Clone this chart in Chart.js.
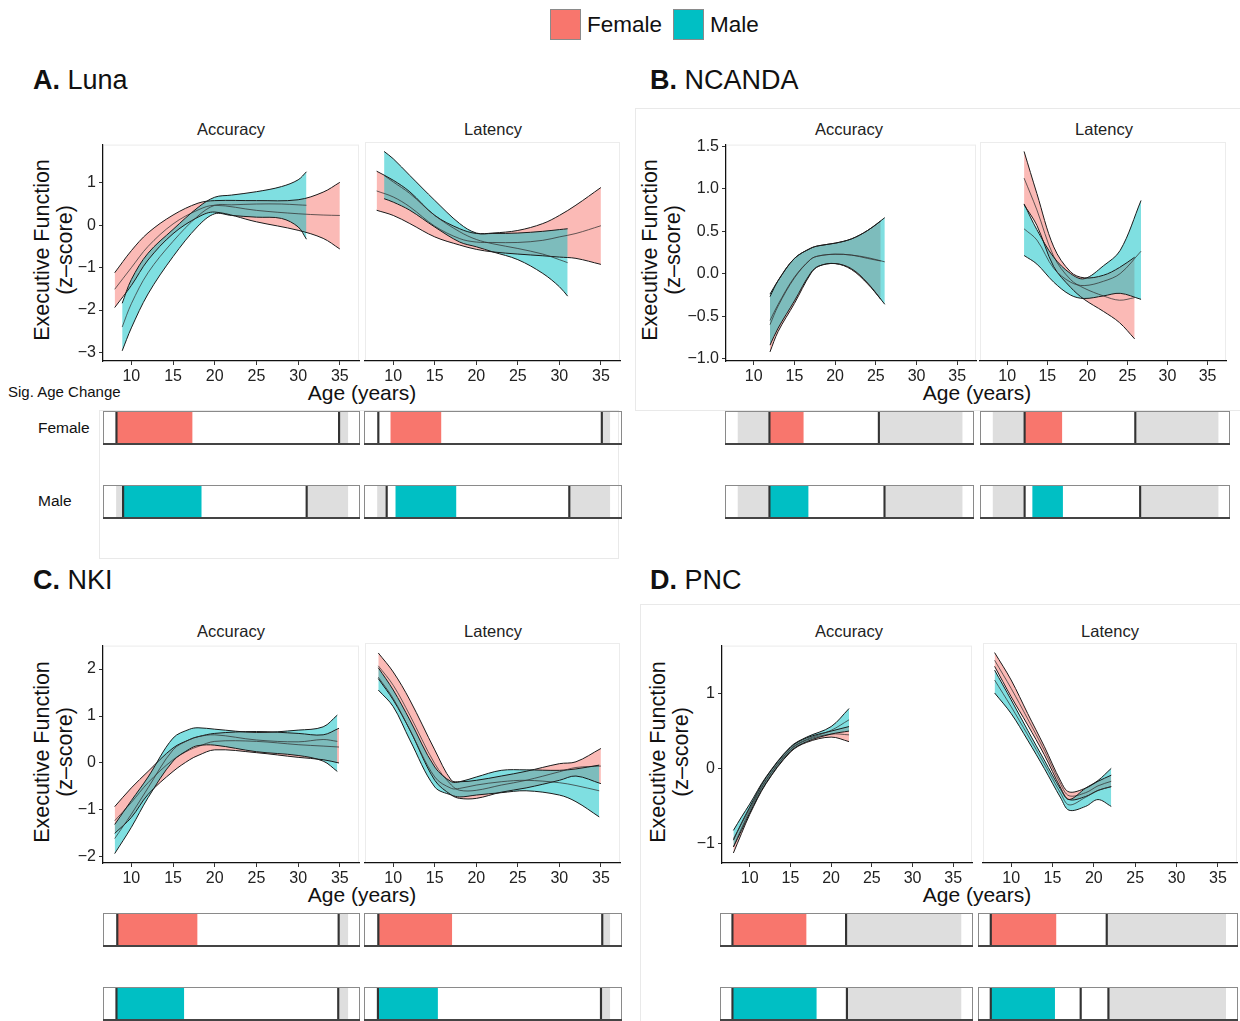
<!DOCTYPE html>
<html>
<head>
<meta charset="utf-8">
<script src="https://cdn.jsdelivr.net/npm/chart.js@4.4.1/dist/chart.umd.min.js"></script>
<style>
  body { margin: 0; background: #fff; font-family: "Liberation Sans", Arial, sans-serif; }
  #fig { position: relative; width: 1240px; height: 1021px; overflow: hidden; }
  #fig canvas, #fig .t, #fig .box { position: absolute; }
  .t { white-space: nowrap; color: #111; }
  .box { border: 1px solid #e9e9e9; box-sizing: border-box; }
</style>
</head>
<body>
<div id="fig"></div>
<script>
// ---- shared axes
const ageTicks = [10, 15, 20, 25, 30, 35];
const ageRange = [6.6, 37.3];
const stripSpan = [8.1, 35.95];

const lunaTicks = [-3, -2, -1, 0, 1];
const ncandaTicks = [-1, -0.5, 0, 0.5, 1, 1.5];
const nkiTicks = [-2, -1, 0, 1, 2];
const pncTicks = [-1, 0, 1];

// ---- A. Luna
const lunaAccF_age = [8, 10, 12, 15, 18, 20, 25, 30, 33, 35];
const lunaAccF_lo  = [-1.94, -1.42, -0.82, -0.2, 0.19, 0.31, 0.08, -0.12, -0.31, -0.56];
const lunaAccF_mid = [-1.51, -1.0, -0.5, 0.03, 0.36, 0.47, 0.35, 0.27, 0.24, 0.23];
const lunaAccF_hi  = [-1.12, -0.6, -0.18, 0.24, 0.52, 0.58, 0.58, 0.6, 0.78, 1.01];
const lunaAccM_age = [8.9, 10, 12, 15, 18, 20, 22, 25, 28, 30, 31];
const lunaAccM_lo  = [-2.96, -2.42, -1.62, -0.74, -0.02, 0.27, 0.23, 0.19, 0.16, -0.04, -0.33];
const lunaAccM_mid = [-2.40, -1.85, -1.12, -0.38, 0.22, 0.47, 0.48, 0.5, 0.5, 0.48, 0.47];
const lunaAccM_hi  = [-1.84, -1.28, -0.66, -0.1, 0.42, 0.66, 0.71, 0.79, 0.91, 1.07, 1.26];
const lunaLatF_age = [8, 10, 12, 15, 18, 20, 22, 25, 28, 30, 32, 35];
const lunaLatF_lo  = [0.31, 0.19, 0.0, -0.31, -0.5, -0.6, -0.66, -0.71, -0.75, -0.78, -0.81, -0.95];
const lunaLatF_mid = [0.76, 0.62, 0.39, -0.06, -0.35, -0.43, -0.44, -0.44, -0.39, -0.31, -0.23, -0.05];
const lunaLatF_hi  = [1.22, 1.01, 0.74, 0.19, -0.12, -0.23, -0.22, -0.16, 0.0, 0.19, 0.43, 0.84];
const lunaLatM_age = [8.9, 10, 12, 15, 18, 20, 22, 25, 28, 30, 31];
const lunaLatM_lo  = [0.58, 0.5, 0.31, -0.08, -0.43, -0.54, -0.66, -0.84, -1.16, -1.47, -1.69];
const lunaLatM_mid = [1.12, 0.97, 0.7, 0.19, -0.19, -0.37, -0.47, -0.58, -0.71, -0.84, -0.91];
const lunaLatM_hi  = [1.68, 1.51, 1.12, 0.54, 0.0, -0.22, -0.23, -0.22, -0.18, -0.14, -0.12];

// ---- B. NCANDA
const ncAccF_age = [12, 13, 15, 17, 18, 20, 22, 24, 25.6];
const ncAccF_lo  = [-0.92, -0.68, -0.35, 0.0, 0.09, 0.12, 0.05, -0.12, -0.3];
const ncAccF_mid = [-0.6, -0.38, -0.05, 0.17, 0.21, 0.23, 0.22, 0.18, 0.15];
const ncAccF_hi  = [-0.27, -0.08, 0.18, 0.3, 0.33, 0.36, 0.41, 0.51, 0.62];
const ncAccM_age = [12, 13, 15, 17, 18, 20, 22, 24, 26.1];
const ncAccM_lo  = [-0.84, -0.64, -0.32, 0.01, 0.09, 0.12, 0.06, -0.11, -0.36];
const ncAccM_mid = [-0.55, -0.36, -0.04, 0.17, 0.21, 0.23, 0.22, 0.19, 0.14];
const ncAccM_hi  = [-0.24, -0.08, 0.18, 0.3, 0.33, 0.36, 0.41, 0.51, 0.66];
const ncLatF_age = [12.1, 13.7, 15.8, 17.9, 19.6, 22, 24, 25.9];
const ncLatF_lo  = [0.79, 0.55, 0.07, -0.17, -0.31, -0.45, -0.58, -0.77];
const ncLatF_mid = [1.10, 0.73, 0.19, -0.08, -0.18, -0.27, -0.32, -0.29];
const ncLatF_hi  = [1.41, 0.92, 0.3, 0.01, -0.06, -0.03, 0.06, 0.18];
const ncLatM_age = [12.1, 13.7, 15.8, 17.9, 19.6, 22, 24.1, 26.7];
const ncLatM_lo  = [0.2, 0.1, -0.11, -0.26, -0.3, -0.27, -0.24, -0.31];
const ncLatM_mid = [0.51, 0.38, 0.05, -0.11, -0.15, -0.1, -0.01, 0.25];
const ncLatM_hi  = [0.8, 0.5, 0.18, -0.01, -0.07, 0.08, 0.26, 0.84];

// ---- C. NKI
const nkiAccF_age = [8, 10, 12, 15, 17, 18, 20, 25, 30, 33, 34.9];
const nkiAccF_lo  = [-1.5, -1.16, -0.67, -0.18, 0.07, 0.16, 0.28, 0.22, 0.12, 0.07, 0.0];
const nkiAccF_mid = [-1.23, -0.84, -0.42, 0.07, 0.28, 0.35, 0.46, 0.46, 0.39, 0.36, 0.34];
const nkiAccF_hi  = [-0.93, -0.53, -0.18, 0.32, 0.5, 0.56, 0.63, 0.67, 0.63, 0.6, 0.74];
const nkiAccM_age = [8, 10, 12, 15, 17, 18, 20, 25, 30, 33, 34.7];
const nkiAccM_lo  = [-1.93, -1.37, -0.74, 0.04, 0.3, 0.37, 0.38, 0.24, 0.16, 0.04, -0.18];
const nkiAccM_mid = [-1.61, -1.09, -0.53, 0.28, 0.5, 0.56, 0.6, 0.49, 0.45, 0.5, 0.46];
const nkiAccM_hi  = [-1.31, -0.8, -0.3, 0.53, 0.72, 0.75, 0.72, 0.65, 0.7, 0.77, 1.02];
const nkiLatF_age = [8.2, 10, 12, 15, 17, 18, 20, 23, 26, 30, 32, 35];
const nkiLatF_lo  = [1.75, 1.3, 0.67, -0.39, -0.7, -0.77, -0.77, -0.64, -0.55, -0.39, -0.3, -0.46];
const nkiLatF_mid = [2.02, 1.61, 0.98, -0.04, -0.49, -0.6, -0.6, -0.49, -0.39, -0.21, -0.12, -0.09];
const nkiLatF_hi  = [2.29, 1.89, 1.3, 0.25, -0.39, -0.42, -0.39, -0.3, -0.2, -0.04, 0.0, 0.28];
const nkiLatM_age = [8.2, 10, 12, 15, 17, 18, 20, 23, 26, 30, 32, 34.8];
const nkiLatM_lo  = [1.51, 1.16, 0.46, -0.53, -0.7, -0.74, -0.7, -0.65, -0.61, -0.7, -0.84, -1.16];
const nkiLatM_mid = [1.78, 1.33, 0.67, -0.32, -0.56, -0.56, -0.49, -0.42, -0.39, -0.44, -0.5, -0.61];
const nkiLatM_hi  = [1.98, 1.51, 0.88, -0.11, -0.42, -0.42, -0.32, -0.18, -0.17, -0.18, -0.15, -0.07];

// ---- D. PNC
const pncAccF_age = [8, 9, 10, 12, 15, 17, 20, 22.2];
const pncAccF_lo  = [-1.12, -0.86, -0.61, -0.2, 0.22, 0.35, 0.42, 0.36];
const pncAccF_mid = [-1.04, -0.79, -0.56, -0.16, 0.25, 0.38, 0.46, 0.45];
const pncAccF_hi  = [-0.95, -0.72, -0.51, -0.12, 0.28, 0.41, 0.5, 0.56];
const pncAccM_age = [8, 9, 10, 12, 15, 17, 20, 22.2];
const pncAccM_lo  = [-1.04, -0.82, -0.59, -0.19, 0.23, 0.36, 0.46, 0.5];
const pncAccM_mid = [-0.93, -0.73, -0.53, -0.15, 0.26, 0.39, 0.51, 0.65];
const pncAccM_hi  = [-0.82, -0.64, -0.47, -0.11, 0.29, 0.42, 0.56, 0.8];
const pncLatF_age = [8, 10, 12, 14, 16, 17, 19, 20.5, 22.1];
const pncLatF_lo  = [1.33, 0.93, 0.56, 0.17, -0.27, -0.42, -0.38, -0.3, -0.25];
const pncLatF_mid = [1.41, 1.04, 0.64, 0.23, -0.22, -0.37, -0.33, -0.24, -0.18];
const pncLatF_hi  = [1.51, 1.15, 0.71, 0.28, -0.18, -0.32, -0.27, -0.18, -0.1];
const pncLatM_age = [8, 10, 12, 14, 16, 17, 19, 20.5, 22.1];
const pncLatM_lo  = [0.98, 0.71, 0.36, -0.01, -0.4, -0.56, -0.51, -0.42, -0.51];
const pncLatM_mid = [1.15, 0.8, 0.43, 0.05, -0.34, -0.49, -0.39, -0.3, -0.25];
const pncLatM_hi  = [1.28, 0.89, 0.49, 0.1, -0.29, -0.42, -0.27, -0.17, -0.01];

// ---- significance strips: [data start, data end, sig start, sig end, extra marks...]
const lunaStripAccF = [8.1, 34.9, 8.1, 17.2];
const lunaStripLatF = [8.2, 35.0, 9.7, 15.7];
const lunaStripAccM = [8.9, 31.0, 8.9, 18.3];
const lunaStripLatM = [9.2, 31.1, 10.3, 17.5];
const ncStripAccF = [12.0, 25.6, 12.0, 16.2];
const ncStripLatF = [12.0, 25.7, 12.0, 16.6];
const ncStripAccM = [12.0, 26.3, 12.0, 16.8];
const ncStripLatM = [12.0, 26.3, 13.0, 16.7];
const nkiStripAccF = [8.2, 34.85, 8.2, 17.8];
const nkiStripLatF = [8.2, 35.05, 8.2, 17.0];
const nkiStripAccM = [8.1, 34.8, 8.1, 16.2];
const nkiStripLatM = [8.15, 34.9, 8.15, 15.3];
const pncStripAccF = [8.0, 21.9, 8.0, 17.0];
const pncStripLatF = [8.0, 21.8, 8.0, 15.75];
const pncStripAccM = [8.0, 22.0, 8.0, 18.25];
const pncStripLatM = [8.0, 22.0, 8.0, 15.6, 18.7];

const FEMALE = '#F8766D', MALE = '#00BFC4';
const FEMALE_FILL = 'rgba(248,118,109,0.5)', MALE_FILL = 'rgba(0,191,196,0.5)';

const fig = document.getElementById('fig');

function addCanvas(x, y, w, h) {
  const c = document.createElement('canvas');
  c.width = w; c.height = h;
  c.style.left = x + 'px'; c.style.top = y + 'px';
  fig.appendChild(c);
  return c;
}
function txt(s, x, y, css, center) {
  const d = document.createElement('div');
  d.className = 't';
  d.innerHTML = s;
  d.style.left = x + 'px'; d.style.top = y + 'px';
  d.style.transform = center ? 'translate(-50%,-50%)' : 'translate(0,-50%)';
  Object.assign(d.style, css || {});
  fig.appendChild(d);
}
function box(x, y, w, h) {
  const d = document.createElement('div');
  d.className = 'box';
  Object.assign(d.style, {left: x + 'px', top: y + 'px', width: w + 'px', height: h + 'px'});
  fig.appendChild(d);
}
const minus = v => String(v).replace('-', '\u2212');

const panelFrame = {
  id: 'panelFrame',
  beforeDraw(chart) {
    const {ctx, chartArea: a} = chart;
    ctx.save();
    ctx.strokeStyle = '#ececec'; ctx.lineWidth = 1;
    ctx.strokeRect(a.left + 0.5, a.top + 0.5, a.right - a.left - 1, a.bottom - a.top - 1);
    ctx.restore();
  }
};

// one facet: ribbons (lo/hi) + fitted line for both sexes
function curveChart(pos, yRange, yTicks, decimals, showY, male, female) {
  const [L, T, R, B] = pos;
  const padL = showY ? 60 : 5;
  const cv = addCanvas(L - padL, T - 10, R - L + padL + 8, B - T + 10 + 32);
  const datasets = [];
  [[male, MALE_FILL], [female, FEMALE_FILL]].forEach(([s, fillCol]) => {
    const pts = arr => s[0].map((a, i) => ({x: a, y: arr[i]}));
    const base = datasets.length;
    datasets.push({data: pts(s[1]), borderColor: '#1a1a1a', borderWidth: 1, fill: false});
    datasets.push({data: pts(s[3]), borderColor: '#1a1a1a', borderWidth: 1,
                   fill: {target: base}, backgroundColor: fillCol});
    datasets.push({data: pts(s[2]), borderColor: 'rgba(50,50,50,0.75)', borderWidth: 1, fill: false});
  });
  new Chart(cv, {
    type: 'line',
    data: {datasets},
    options: {
      responsive: false, animation: false,
      layout: {padding: {top: 10, right: 8, left: showY ? 0 : 5, bottom: 0}},
      elements: {point: {radius: 0}, line: {tension: 0.35}},
      plugins: {legend: {display: false}, tooltip: {enabled: false},
                filler: {drawTime: 'beforeDatasetsDraw'}},
      scales: {
        x: {
          type: 'linear', min: ageRange[0], max: ageRange[1],
          afterBuildTicks: s => { s.ticks = ageTicks.map(v => ({value: v})); },
          afterFit: s => { s.height = 32; },
          grid: {drawOnChartArea: false, tickLength: 4, color: '#333'},
          border: {color: '#111', width: 1.2},
          ticks: {font: {size: 16, family: 'Liberation Sans'}, color: '#222', padding: 2, maxRotation: 0}
        },
        y: {
          type: 'linear', display: showY, min: yRange[0], max: yRange[1],
          afterBuildTicks: s => { s.ticks = yTicks.map(v => ({value: v})); },
          afterFit: s => { s.width = showY ? 60 : 0; },
          grid: {drawOnChartArea: false, tickLength: 4, color: '#333'},
          border: {color: '#111', width: 1.2},
          ticks: {font: {size: 16, family: 'Liberation Sans'}, color: '#222', padding: 3,
                  callback: v => minus(v.toFixed(decimals))}
        }
      }
    },
    plugins: [panelFrame]
  });
}

const stripFrame = {
  id: 'stripFrame',
  afterDraw(chart) {
    const {ctx, width, height} = chart;
    ctx.save();
    ctx.strokeStyle = '#8a8a8a'; ctx.lineWidth = 1;
    ctx.strokeRect(0.5, 0.5, width - 1, height - 1);
    ctx.strokeStyle = '#444'; ctx.lineWidth = 2;
    ctx.beginPath(); ctx.moveTo(0, height - 1); ctx.lineTo(width, height - 1); ctx.stroke();
    ctx.restore();
  }
};

function stripChart(x, y, w, h, s, color) {
  const cv = addCanvas(x, y, w, h);
  const sets = [];
  s.slice(4).concat([s[0], s[1]]).forEach(m =>
    sets.push({data: [[m - 0.09, m + 0.09]], backgroundColor: '#333', order: 0}));
  sets.push({data: [[s[2], s[3]]], backgroundColor: color, order: 1});
  if (s[0] > stripSpan[0]) sets.push({data: [[stripSpan[0], s[0]]], backgroundColor: '#dedede', order: 2});
  sets.push({data: [[s[1], stripSpan[1]]], backgroundColor: '#dedede', order: 2});
  sets.forEach(d => Object.assign(d, {barPercentage: 1, categoryPercentage: 1, grouped: false, borderWidth: 0}));
  new Chart(cv, {
    type: 'bar',
    data: {labels: [''], datasets: sets},
    options: {
      indexAxis: 'y', responsive: false, animation: false,
      layout: {padding: {left: 1, right: 1, top: 1, bottom: 2}},
      plugins: {legend: {display: false}, tooltip: {enabled: false}},
      scales: {x: {type: 'linear', min: ageRange[0], max: ageRange[1], display: false},
               y: {display: false}}
    },
    plugins: [stripFrame]
  });
}

// ---- faint panel frames
box(99, 410, 520, 149);
box(635, 108, 620, 303);
box(640, 604, 620, 430);

// ---- legend
[[FEMALE, 550, 'Female', 587], [MALE, 673, 'Male', 710]].forEach(([c, x, lab, tx]) => {
  const k = document.createElement('div');
  Object.assign(k.style, {position: 'absolute', left: x + 'px', top: '9px', width: '31px', height: '31px',
    background: c, border: '1px solid #8a8a8a', boxSizing: 'border-box'});
  fig.appendChild(k);
  txt(lab, tx, 25, {fontSize: '22.5px'});
});

// ---- panel titles, facet titles, axis titles
const yTitle = 'Executive Function<br>(z\u2013score)';
[['A.', 'Luna', 33, 80], ['B.', 'NCANDA', 650, 80], ['C.', 'NKI', 33, 580], ['D.', 'PNC', 650, 580]]
  .forEach(([k, name, x, y]) => txt('<b>' + k + '</b> ' + name, x, y, {fontSize: '27px'}));
[[231, 129], [493, 129], [849, 129], [1104, 129], [231, 631], [493, 631], [849, 631], [1110, 631]]
  .forEach(([x, y], i) => txt(i % 2 ? 'Latency' : 'Accuracy', x, y, {fontSize: '16.5px', color: '#222'}, true));
[[362, 393], [977, 393], [362, 895], [977, 895]]
  .forEach(([x, y]) => txt('Age (years)', x, y, {fontSize: '21px'}, true));
[[54, 250], [662, 250], [54, 752], [670, 752]].forEach(([x, y]) => {
  txt(yTitle, x, y, {fontSize: '21.5px', lineHeight: '23px', textAlign: 'center',
    transform: 'translate(-50%,-50%) rotate(-90deg)'}, true);
});
txt('Sig. Age Change', 8, 391, {fontSize: '15px'});
txt('Female', 38, 428, {fontSize: '15.5px'});
txt('Male', 38, 501, {fontSize: '15.5px'});

// ---- facets
curveChart([103, 142, 359, 361], [-3.2, 1.9], lunaTicks, 0, true,
  [lunaAccM_age, lunaAccM_lo, lunaAccM_mid, lunaAccM_hi], [lunaAccF_age, lunaAccF_lo, lunaAccF_mid, lunaAccF_hi]);
curveChart([365, 142, 620, 361], [-3.2, 1.9], lunaTicks, 0, false,
  [lunaLatM_age, lunaLatM_lo, lunaLatM_mid, lunaLatM_hi], [lunaLatF_age, lunaLatF_lo, lunaLatF_mid, lunaLatF_hi]);
curveChart([726, 142, 976, 361], [-1.027, 1.52], ncandaTicks, 1, true,
  [ncAccM_age, ncAccM_lo, ncAccM_mid, ncAccM_hi], [ncAccF_age, ncAccF_lo, ncAccF_mid, ncAccF_hi]);
curveChart([980, 142, 1226, 361], [-1.027, 1.52], ncandaTicks, 1, false,
  [ncLatM_age, ncLatM_lo, ncLatM_mid, ncLatM_hi], [ncLatF_age, ncLatF_lo, ncLatF_mid, ncLatF_hi]);
curveChart([103, 643, 359, 863], [-2.13, 2.5], nkiTicks, 0, true,
  [nkiAccM_age, nkiAccM_lo, nkiAccM_mid, nkiAccM_hi], [nkiAccF_age, nkiAccF_lo, nkiAccF_mid, nkiAccF_hi]);
curveChart([365, 643, 620, 863], [-2.13, 2.5], nkiTicks, 0, false,
  [nkiLatM_age, nkiLatM_lo, nkiLatM_mid, nkiLatM_hi], [nkiLatF_age, nkiLatF_lo, nkiLatF_mid, nkiLatF_hi]);
curveChart([722, 643, 972, 863], [-1.253, 1.636], pncTicks, 0, true,
  [pncAccM_age, pncAccM_lo, pncAccM_mid, pncAccM_hi], [pncAccF_age, pncAccF_lo, pncAccF_mid, pncAccF_hi]);
curveChart([983, 643, 1237, 863], [-1.253, 1.636], pncTicks, 0, false,
  [pncLatM_age, pncLatM_lo, pncLatM_mid, pncLatM_hi], [pncLatF_age, pncLatF_lo, pncLatF_mid, pncLatF_hi]);

// ---- strips
stripChart(103, 411, 257, 34, lunaStripAccF, FEMALE);
stripChart(364, 411, 258, 34, lunaStripLatF, FEMALE);
stripChart(103, 485, 257, 34, lunaStripAccM, MALE);
stripChart(364, 485, 258, 34, lunaStripLatM, MALE);
stripChart(725, 411, 249, 34, ncStripAccF, FEMALE);
stripChart(980, 411, 250, 34, ncStripLatF, FEMALE);
stripChart(725, 485, 249, 34, ncStripAccM, MALE);
stripChart(980, 485, 250, 34, ncStripLatM, MALE);
stripChart(103, 913, 257, 34, nkiStripAccF, FEMALE);
stripChart(364, 913, 258, 34, nkiStripLatF, FEMALE);
stripChart(103, 987, 257, 34, nkiStripAccM, MALE);
stripChart(364, 987, 258, 34, nkiStripLatM, MALE);
stripChart(720, 913, 253, 34, pncStripAccF, FEMALE);
stripChart(978, 913, 260, 34, pncStripLatF, FEMALE);
stripChart(720, 987, 253, 34, pncStripAccM, MALE);
stripChart(978, 987, 260, 34, pncStripLatM, MALE);
</script>
</body>
</html>
